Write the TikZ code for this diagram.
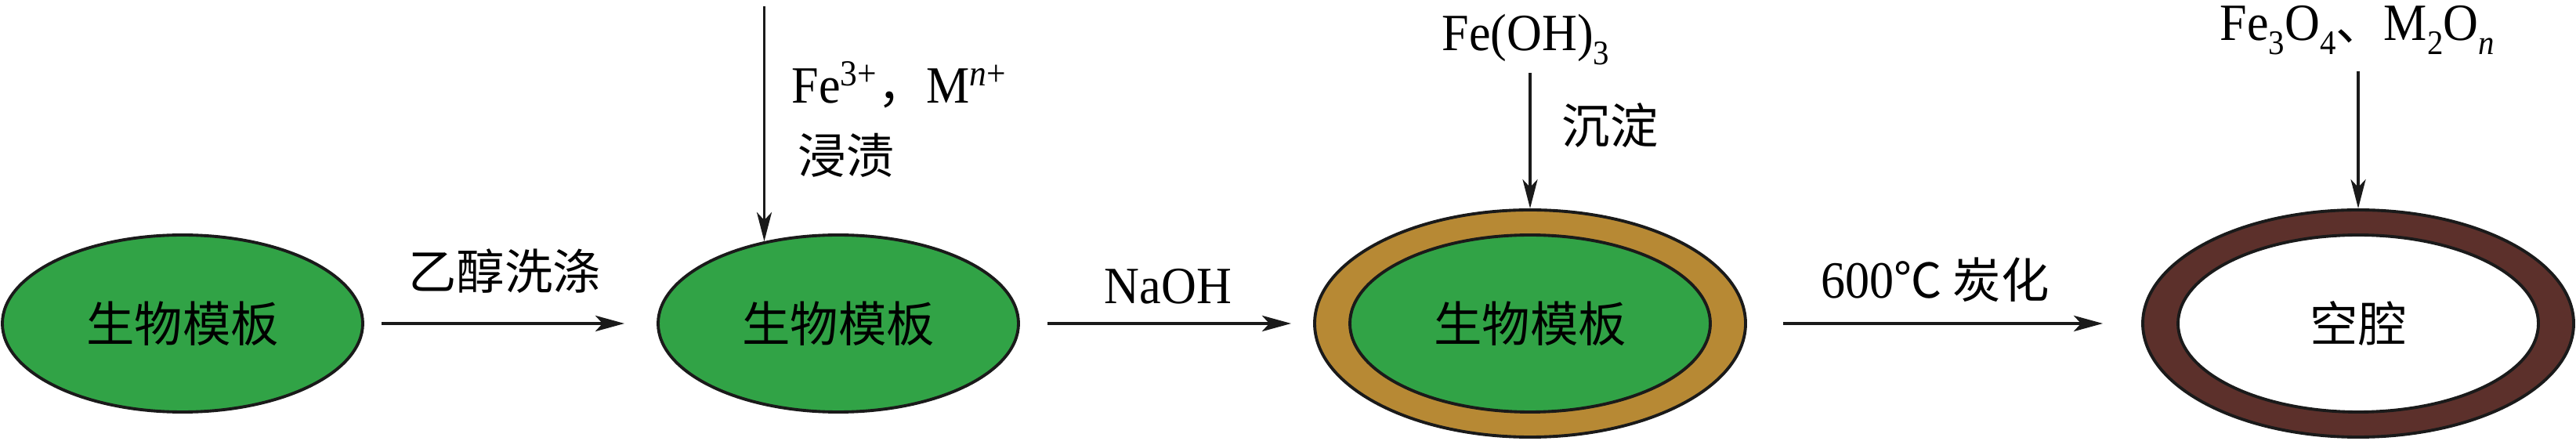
\documentclass[tikz,border=0pt]{standalone}
\usepackage{fontspec}
\usepackage{tikz}
\usetikzlibrary{shapes,arrows.meta,positioning,calc}
\setmainfont{Liberation Serif}[FakeStretch=0.93]
\newfontfamily\cjk{Noto Sans CJK SC}[Scale=0.92]
\definecolor{templategreen}{RGB}{49,163,70}
\definecolor{coatgold}{RGB}{183,137,52}
\definecolor{shellbrown}{RGB}{92,48,43}
\definecolor{inkblack}{RGB}{26,26,26}
\newcommand{\lowsub}[1]{\raisebox{-0.26em}{\fontsize{12.5}{13}\selectfont #1}}

\begin{document}
\begin{tikzpicture}[
    tmpl/.style={ellipse, draw=inkblack, line width=1.1pt, fill=templategreen, minimum width=4.60cm, minimum height=2.26cm, inner sep=0pt, font=\fontsize{19}{23}\selectfont\cjk},
    shellring/.style={ellipse, draw=inkblack, line width=1.1pt, minimum width=5.50cm, minimum height=2.90cm, inner sep=0pt},
    lbl/.style={inner sep=0pt, font=\fontsize{19}{23}\selectfont},
    flow/.style={-{Stealth[length=0.37cm, width=0.2cm, inset=0.09cm]}, draw=inkblack, line width=1.3pt},
    feed/.style={-{Stealth[length=0.37cm, width=0.19cm, inset=0.1cm]}, draw=inkblack, line width=1.1pt}]
    \useasboundingbox (0,0) rectangle (32.88,5.63);

    % Templates and shells
    \node[tmpl] (tmpl1) at (2.33,1.50) {生物模板};
    \node[tmpl] (tmpl2) at (10.70,1.50) {生物模板};
    \node[shellring, fill=coatgold] (coat3) at (19.53,1.50) {};
    \node[tmpl] (tmpl3) at (19.53,1.50) {生物模板};
    \node[shellring, fill=shellbrown] (shell4) at (30.10,1.50) {};
    \node[tmpl, fill=white] (cavity4) at (30.10,1.50) {空腔};

    % Step labels
    \node[lbl, anchor=base] (wash) at (6.44,1.93) {\cjk 乙醇洗涤};
    \node[lbl, anchor=base] (naoh) at (14.91,1.75) {NaOH};
    \node[lbl, anchor=base] (carb) at (24.70,1.82) {600{\cjk ℃ 炭化}};

    % Feeds from above
    \node[lbl, anchor=base west] (ions) at (10.10,4.31) {Fe\textsuperscript{3+}{\cjk ，}M\textsuperscript{\textit{n}+}};
    \node[lbl, anchor=base west] (soak) at (10.18,3.41) {\cjk 浸渍};
    \node[lbl, anchor=base west] (hyd) at (18.40,4.98) {Fe(OH)\lowsub{3}};
    \node[lbl, anchor=base west] (precip) at (19.93,3.79) {\cjk 沉淀};
    \node[lbl, anchor=base west] (oxides) at (28.33,5.11) {Fe\lowsub{3}O\lowsub{4}{\cjk 、}M\lowsub{2}O\lowsub{\textit{n}}};

    \coordinate (ionsrc) at (tmpl2.132 |- 0,5.55);
    \coordinate (hydsrc) at (coat3.north |- 0,4.70);
    \coordinate (oxsrc) at (shell4.north |- 0,4.72);

    % Connections
    \draw[flow, shorten <=0.22cm, shorten >=0.41cm] (tmpl1) -- (tmpl2);
    \draw[flow, shorten <=0.35cm, shorten >=0.28cm] (tmpl2) -- (coat3);
    \draw[flow, shorten <=0.46cm, shorten >=0.49cm] (coat3) -- (shell4);
    \draw[feed] (ionsrc) -- (tmpl2.132);
    \draw[feed] (hydsrc) -- (coat3.north);
    \draw[feed] (oxsrc) -- (shell4.north);
\end{tikzpicture}
\end{document}
